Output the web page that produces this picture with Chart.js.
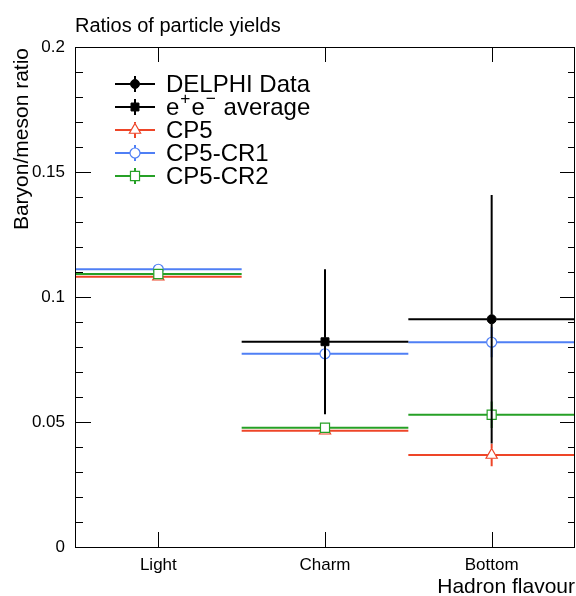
<!DOCTYPE html>
<html><head><meta charset="utf-8">
<script src="https://cdn.jsdelivr.net/npm/chart.js@4/dist/chart.umd.min.js"></script>
<style>html,body{margin:0;padding:0;background:#fff}canvas{display:block}</style>
</head><body>
<canvas id="c" width="576" height="596"></canvas>
<script>
// ---- data ----
const categories = ['Light', 'Charm', 'Bottom'];
const binCenters = [0.5, 1.5, 2.5];
const binHalfWidth = 0.5;
const yTicks = [0, 0.05, 0.1, 0.15, 0.2];
const delphiData = [null, null, 0.0911];
const delphiErr = [null, null, 0.0497];
const eeAverage = [null, 0.0821, null];
const eeAverageErr = [null, 0.029, null];
const cp5 = [0.1081, 0.0465, 0.0368];
const cp5Err = [0.0004, 0.0008, 0.0045];
const cp5cr1 = [0.1111, 0.0773, 0.0819];
const cp5cr1Err = [0.0004, 0.0008, 0.006];
const cp5cr2 = [0.1092, 0.0477, 0.0529];
const cp5cr2Err = [0.0004, 0.0008, 0.0053];
const seriesLabels = ['DELPHI Data', 'e^{+}e^{\u2212} average', 'CP5', 'CP5-CR1', 'CP5-CR2'];

const F = '"Liberation Sans", Arial, Helvetica, sans-serif';
const RED = '#ee4528', BLUE = '#4f7ff5', GREEN = '#26a026';

function pts(vals, errs) {
  const out = [];
  vals.forEach((v, i) => { if (v !== null) out.push({x: binCenters[i], y: v, err: errs[i]}); });
  return out;
}
function mk(label, vals, errs, color, style, radius, open, gap, order) {
  return {
    label, data: pts(vals, errs), showLine: false, order,
    borderColor: color, backgroundColor: color,
    pointStyle: style, pointRadius: radius, pointHoverRadius: radius,
    pointBackgroundColor: open ? '#ffffff' : color,
    pointBorderColor: color, pointBorderWidth: open ? 1.2 : 1,
    gap
  };
}
const datasets = [
  mk(seriesLabels[0], delphiData, delphiErr, '#000', 'circle', 4.5, false, {h: 4.5, up: 4.5, dn: 4.5}, 1),
  mk(seriesLabels[1], eeAverage, eeAverageErr, '#000', 'rect', 5.6, false, {h: 4, up: 4, dn: 4}, 2),
  mk(seriesLabels[2], cp5, cp5Err, RED, 'triangle', 6.5, true, {h: 3.8, up: 6.5, dn: 3.3}, 5),
  mk(seriesLabels[3], cp5cr1, cp5cr1Err, BLUE, 'circle', 5, true, {h: 5, up: 5, dn: 5}, 4),
  mk(seriesLabels[4], cp5cr2, cp5cr2Err, GREEN, 'rect', 6.4, true, {h: 4.5, up: 4.5, dn: 4.5}, 3)
];

function seg(ctx, x1, y1, x2, y2) { ctx.beginPath(); ctx.moveTo(x1, y1); ctx.lineTo(x2, y2); ctx.stroke(); }

function drawRich(ctx, text, x, y, size) {
  const parts = text.split(/(\^\{[^}]*\})/).filter(s => s);
  let cx = x;
  parts.forEach(p => {
    const m = p.match(/^\^\{([^}]*)\}$/);
    if (m) {
      ctx.font = (size * 0.72) + 'px ' + F;
      ctx.fillText(m[1], cx + 1, y - size * 0.36);
      cx += ctx.measureText(m[1]).width + 2;
    } else {
      ctx.font = size + 'px ' + F;
      ctx.fillText(p, cx, y);
      cx += ctx.measureText(p).width;
    }
  });
}

const rootPlugin = {
  id: 'rootStyle',
  beforeDatasetDraw(chart, args) {
    const {ctx, scales: {x, y}} = chart;
    const ds = chart.data.datasets[args.index];
    ctx.save();
    ctx.lineWidth = 2;
    ctx.lineCap = 'butt';
    ctx.strokeStyle = ds.borderColor;
    const g = ds.gap;
    ds.data.forEach(p => {
      const cx = x.getPixelForValue(p.x), cy = y.getPixelForValue(p.y);
      const xl = x.getPixelForValue(p.x - binHalfWidth), xr = x.getPixelForValue(p.x + binHalfWidth);
      seg(ctx, xl, cy, cx - g.h, cy);
      seg(ctx, cx + g.h, cy, xr, cy);
      const yt = y.getPixelForValue(p.y + p.err), yb = y.getPixelForValue(p.y - p.err);
      if (yt < cy - g.up) seg(ctx, cx, yt, cx, cy - g.up);
      if (yb > cy + g.dn) seg(ctx, cx, cy + g.dn, cx, yb);
    });
    ctx.restore();
  },
  afterDatasetsDraw(chart) {
    const {ctx, chartArea: a, scales: {x, y}} = chart;
    ctx.save();
    // frame
    ctx.strokeStyle = '#000';
    ctx.lineWidth = 1;
    ctx.strokeRect(a.left + 0.5, a.top + 0.5, a.right - a.left - 1, a.bottom - a.top);
    // y ticks (left and right, inward)
    for (let k = 0; k <= 20; k++) {
      const v = k * 0.01;
      const py = Math.round(y.getPixelForValue(v)) + 0.5;
      const major = k % 5 === 0;
      seg(ctx, a.left, py, a.left + (major ? 16 : 8), py);
      seg(ctx, a.right, py, a.right - (major ? 15 : 7), py);
    }
    // x ticks (bottom and top, inward)
    binCenters.forEach(v => {
      const px = Math.round(x.getPixelForValue(v)) + 0.5;
      seg(ctx, px, a.bottom, px, a.bottom - 15);
      seg(ctx, px, a.top, px, a.top + 15);
    });
    // titles
    ctx.fillStyle = '#000';
    ctx.textBaseline = 'alphabetic';
    ctx.font = '20px ' + F;
    ctx.textAlign = 'left';
    ctx.fillText('Ratios of particle yields', a.left, 32);
    ctx.font = '21px ' + F;
    ctx.textAlign = 'right';
    ctx.fillText('Hadron flavour', a.right, 593);
    ctx.save();
    ctx.translate(28, a.top + 1);
    ctx.rotate(-Math.PI / 2);
    ctx.textAlign = 'right';
    ctx.fillText('Baryon/meson ratio', 0, 0);
    ctx.restore();
    // legend
    const lx0 = 115, lx1 = 155, mx = 135, ly0 = 84, dy = 23;
    chart.data.datasets.forEach((ds, i) => {
      const ly = ly0 + i * dy;
      const g = ds.gap;
      ctx.strokeStyle = ds.borderColor;
      ctx.lineWidth = 2;
      seg(ctx, lx0, ly, mx - g.h, ly);
      seg(ctx, mx + g.h, ly, lx1, ly);
      seg(ctx, mx, ly - 8, mx, ly - g.up);
      seg(ctx, mx, ly + g.dn, mx, ly + 8);
      ctx.fillStyle = ds.pointBackgroundColor;
      ctx.strokeStyle = ds.pointBorderColor;
      ctx.lineWidth = ds.pointBorderWidth;
      Chart.helpers.drawPoint(ctx, {pointStyle: ds.pointStyle, radius: ds.pointRadius, rotation: 0, borderWidth: ds.pointBorderWidth}, mx, ly);
      ctx.fillStyle = '#000';
      ctx.textAlign = 'left';
      ctx.textBaseline = 'middle';
      drawRich(ctx, ds.label, 166, ly + 1, 24);
    });
    ctx.restore();
  }
};

new Chart(document.getElementById('c'), {
  type: 'scatter',
  data: {datasets},
  plugins: [rootPlugin],
  options: {
    responsive: false,
    animation: false,
    devicePixelRatio: 1,
    events: [],
    layout: {autoPadding: false, padding: {top: 47, right: 1, left: 0, bottom: 0}},
    plugins: {legend: {display: false}, title: {display: false}, tooltip: {enabled: false}},
    scales: {
      x: {
        type: 'linear', min: 0, max: 3,
        grid: {display: false, drawTicks: false}, border: {display: false},
        afterBuildTicks: s => { s.ticks = binCenters.map(v => ({value: v})); },
        afterFit: s => { s.height = 49; s.paddingLeft = 0; s.paddingRight = 0; },
        ticks: {
          color: '#000', font: {family: F, size: 17}, padding: 8,
          autoSkip: false, maxRotation: 0,
          callback: v => categories[binCenters.indexOf(v)]
        }
      },
      y: {
        type: 'linear', min: 0, max: 0.2,
        grid: {display: false, drawTicks: false}, border: {display: false},
        afterBuildTicks: s => { s.ticks = yTicks.map(v => ({value: v})); },
        afterFit: s => { s.width = 75; s.paddingTop = 0; s.paddingBottom = 0; },
        ticks: {color: '#000', font: {family: F, size: 17}, padding: 10, callback: v => String(v)}
      }
    }
  }
});
</script>
</body></html>
